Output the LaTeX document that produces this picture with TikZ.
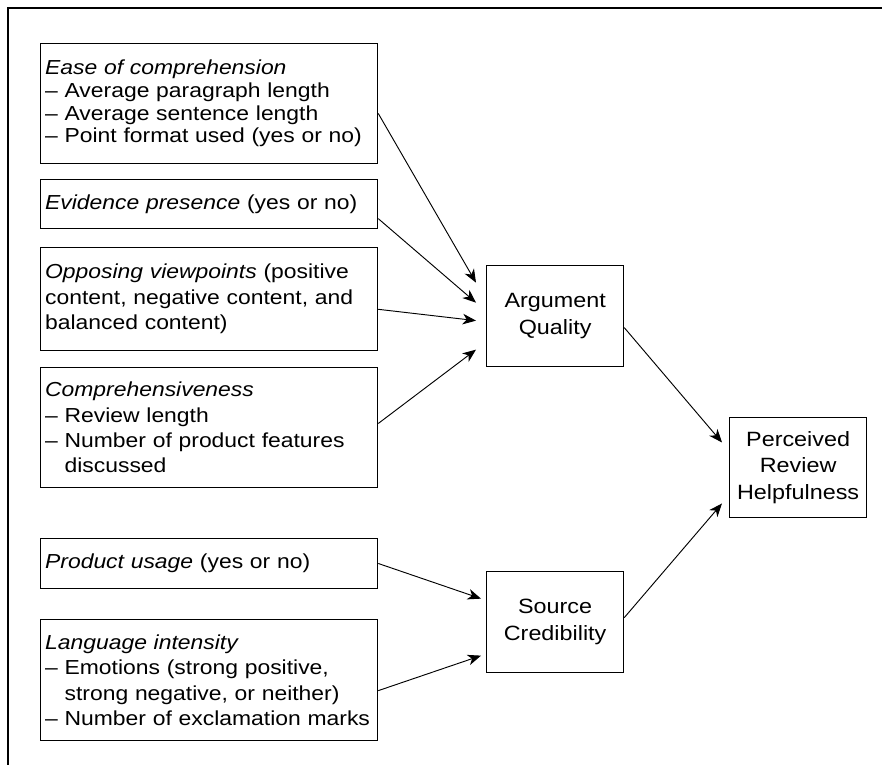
\documentclass[tikz,border=0pt]{standalone}
\usepackage{fontspec}
\setmainfont{Liberation Sans}[FakeStretch=1.13]
\usetikzlibrary{arrows.meta}

\begin{document}
\begin{tikzpicture}[x=0.75pt, y=-0.75pt,
  factor/.style={rectangle, draw=black, line width=0.7pt, anchor=north west, text width=246pt, inner xsep=3.5pt, align=left, font=\fontsize{15.2}{19}\selectfont},
  construct/.style={rectangle, draw=black, line width=0.7pt, anchor=north west, minimum width=103pt, minimum height=76pt, align=center, font=\fontsize{15.5}{20}\selectfont},
  link/.style={-{Stealth[length=10pt, width=8pt, inset=3pt]}, line width=0.7pt}]

\useasboundingbox (0,0) rectangle (882,765);
\draw[line width=1.1pt] (882,8) -- (8,8) -- (8,765);

\node (ease) [factor, minimum height=90pt, font=\fontsize{15.2}{17}\selectfont] at (40,43) {\textit{Ease of comprehension}\\-- Average paragraph length\\-- Average sentence length\\-- Point format used (yes or no)};

\node (evidence) [factor, minimum height=37pt] at (40,179) {\textit{Evidence presence} (yes or no)};

\node (opposing) [factor, minimum height=77pt] at (40,247) {\textit{Opposing viewpoints} (positive\\content, negative content, and\\balanced content)};

\node (compre) [factor, minimum height=90pt] at (40,367) {\textit{Comprehensiveness}\\-- Review length\\-- Number of product features\\\phantom{-- }discussed};

\node (usage) [factor, minimum height=37.5pt] at (40,538) {\textit{Product usage} (yes or no)};

\node (intensity) [factor, minimum height=91pt] at (40,619) {\textit{Language intensity}\\-- Emotions (strong positive,\\\phantom{-- }strong negative, or neither)\\-- Number of exclamation marks};

\node (quality) [construct] at (486,265) {Argument\\Quality};

\node (credibility) [construct] at (486,571) {Source\\Credibility};

\node (helpful) [construct, minimum height=75pt] at (729,417) {Perceived\\Review\\Helpfulness};

\draw[link] ([shift={(0,10)}]ease.east) -- ([shift={(-10,-33.5)}]quality.west);
\draw[link] ([shift={(0,14.5)}]evidence.east) -- ([shift={(-10,-13.5)}]quality.west);
\draw[link] ([shift={(0,10.5)}]opposing.east) -- ([shift={(-10,4.5)}]quality.west);
\draw[link] ([shift={(0,-4)}]compre.east) -- ([shift={(-10,33.5)}]quality.west);
\draw[link] (usage.east) -- ([shift={(-5,-23.5)}]credibility.west);
\draw[link] ([shift={(0,10.5)}]intensity.east) -- ([shift={(-5,33.5)}]credibility.west);
\draw[link] ([shift={(0,11.5)}]quality.east) -- ([shift={(-7,-25)}]helpful.west);
\draw[link] ([shift={(0,-4.5)}]credibility.east) -- ([shift={(-7,36)}]helpful.west);

\end{tikzpicture}
\end{document}
